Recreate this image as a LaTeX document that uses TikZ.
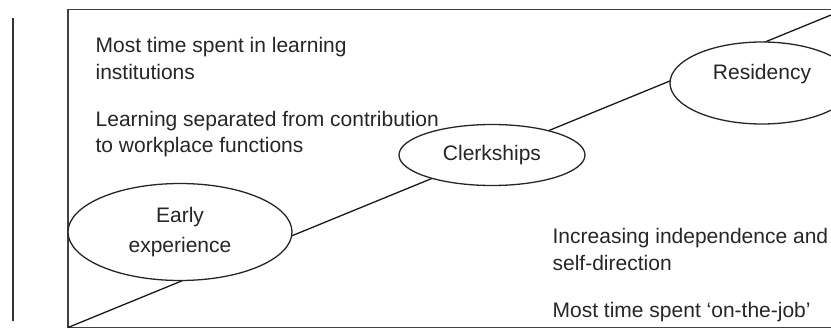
\documentclass[tikz,border=0pt]{standalone}
\usepackage{fontspec}
\setmainfont{Liberation Sans}
\usetikzlibrary{shapes.geometric}

\begin{document}
\begin{tikzpicture}[x=1pt,y=-1pt,line width=1.3pt]
  \tikzstyle{stage}=[ellipse,draw=black!85,fill=white,inner sep=0pt,text=black!85]
  \tikzstyle{remark}=[anchor=base west,inner sep=0pt,align=left,text=black!85]
  \fontsize{21}{27}\selectfont

  \useasboundingbox (0,0) rectangle (831,329);
  \clip (0,0) rectangle (831,329);

  % frame and side rule
  \draw[black!75] (68,9.5) -- (845,9.5);
  \draw[black!75] (68,9.5) -- (68,327.5) -- (845,327.5);
  \draw[black!80] (13,18) -- (13,321);

  % rising line behind the stages
  \coordinate (origin) at (68,327.5);
  \coordinate (tip)    at (831,15);
  \draw[black!90] (origin) -- (tip);

  \node[stage,minimum width=224pt,minimum height=97pt] (early) at (180,232)
        {\begin{tabular}{c}Early\\[3pt]experience\end{tabular}};
  \node[stage,minimum width=186pt,minimum height=61pt] (clerk) at (492,155) {Clerkships};
  \node[stage,minimum width=184pt,minimum height=82pt,
        label={[yshift=9pt,text=black!85]center:Residency}] (resid) at (762,83) {};

  \node[remark] (inst)  at (95,80)   {Most time spent in learning\\institutions};
  \node[remark] (sep)   at (95,153)  {Learning separated from contribution\\to workplace functions};
  \node[remark] (indep) at (552,270) {Increasing independence and\\self-direction};
  \node[remark] (job)   at (552,317) {Most time spent `on-the-job'};
\end{tikzpicture}
\end{document}
